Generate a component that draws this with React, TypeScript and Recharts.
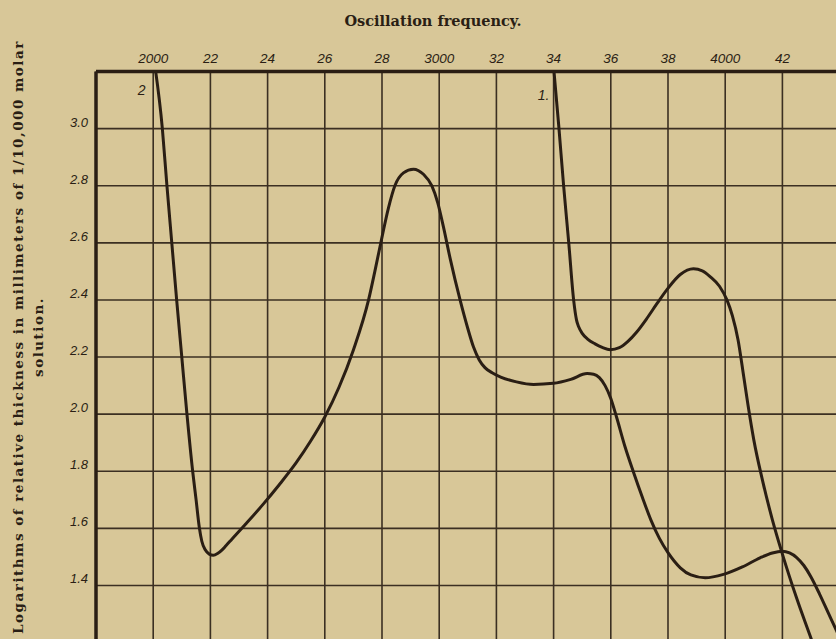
import React from 'react';
import { LineChart, Line, XAxis, YAxis, CartesianGrid, ReferenceDot } from 'recharts';

// Tick values and labels
const xTickValues = [2000, 2200, 2400, 2600, 2800, 3000, 3200, 3400, 3600, 3800, 4000, 4200];
const xTickLabels = ['2000', '22', '24', '26', '28', '3000', '32', '34', '36', '38', '4000', '42'];
const yTickValues = [1.4, 1.6, 1.8, 2.0, 2.2, 2.4, 2.6, 2.8, 3.0];
const yTickLabels = ['1.4', '1.6', '1.8', '2.0', '2.2', '2.4', '2.6', '2.8', '3.0'];

// Curve 2 (oscillation frequency vs. log thickness)
const curve2Freq = [2000, 2032, 2048, 2065, 2082, 2100, 2118, 2138, 2150, 2161, 2170, 2182, 2196, 2210, 2225, 2240, 2255, 2275, 2325, 2384, 2440, 2500, 2550, 2600, 2650, 2700, 2753, 2775, 2800, 2822, 2845, 2875, 2910, 2945, 2974, 2995, 3015, 3039, 3073, 3100, 3120, 3140, 3160, 3185, 3215, 3270, 3330, 3399, 3460, 3517, 3540, 3560, 3580, 3600, 3620, 3650, 3680, 3710, 3740, 3770, 3800, 3843, 3880, 3930, 3994, 4060, 4122, 4165, 4200, 4225, 4250, 4275, 4300, 4330, 4360, 4390, 4430];
const curve2Log = [3.26, 3.0, 2.8, 2.6, 2.4, 2.2, 2.0, 1.8, 1.7, 1.605, 1.555, 1.525, 1.51, 1.506, 1.512, 1.524, 1.54, 1.562, 1.617, 1.684, 1.752, 1.83, 1.905, 1.99, 2.095, 2.225, 2.4, 2.5, 2.62, 2.72, 2.8, 2.845, 2.858, 2.84, 2.8, 2.74, 2.655, 2.542, 2.4, 2.3, 2.235, 2.19, 2.163, 2.145, 2.13, 2.113, 2.104, 2.108, 2.122, 2.142, 2.14, 2.128, 2.1, 2.055, 1.99, 1.885, 1.795, 1.71, 1.63, 1.565, 1.515, 1.462, 1.437, 1.427, 1.439, 1.465, 1.497, 1.514, 1.52, 1.514, 1.498, 1.47, 1.43, 1.37, 1.305, 1.24, 1.15];

// Curve 1
const curve1Freq = [3397, 3418, 3435, 3453, 3470, 3480, 3488, 3500, 3520, 3545, 3570, 3598, 3630, 3660, 3690, 3726, 3760, 3797, 3843, 3889, 3920, 3948, 3980, 4006, 4025, 4045, 4065, 4080, 4100, 4130, 4165, 4200, 4250, 4300, 4330];
const curve1Log = [3.25, 3.01, 2.8, 2.6, 2.4, 2.33, 2.305, 2.283, 2.262, 2.246, 2.234, 2.226, 2.233, 2.255, 2.287, 2.335, 2.385, 2.437, 2.489, 2.509, 2.502, 2.481, 2.448, 2.4, 2.345, 2.26, 2.13, 2.03, 1.91, 1.77, 1.63, 1.51, 1.355, 1.215, 1.13];

const curve1 = curve1Freq.map((x, i) => ({ x, y: curve1Log[i] }));
const curve2 = curve2Freq.map((x, i) => ({ x, y: curve2Log[i] }));

const ink = '#2a1e14';
const gridInk = '#3b2f22';
const paper = '#d8c798';

const XTick = (props: any) => {
  const { x, y, payload } = props;
  const idx = xTickValues.indexOf(payload.value);
  return (
    <text x={x} y={y} dy={-1} textAnchor="middle" fill={ink}
      style={{ fontFamily: '"Liberation Sans", sans-serif', fontStyle: 'italic', fontSize: 13.5 }}>
      {idx >= 0 ? xTickLabels[idx] : ''}
    </text>
  );
};

const YTick = (props: any) => {
  const { x, y, payload } = props;
  const idx = yTickValues.findIndex((v) => Math.abs(v - payload.value) < 1e-6);
  return (
    <text x={x} y={y} dy={-2} textAnchor="end" fill={ink}
      style={{ fontFamily: '"Liberation Sans", sans-serif', fontStyle: 'italic', fontSize: 13 }}>
      {idx >= 0 ? yTickLabels[idx] : ''}
    </text>
  );
};

export default function App() {
  return (
    <div style={{ position: 'fixed', left: 0, top: 0, width: 836, height: 639, overflow: 'hidden', background: paper }}>
      <div style={{ position: 'absolute', left: 433, top: 20, transform: 'translate(-50%, -50%)', whiteSpace: 'nowrap',
        fontFamily: '"DejaVu Serif", serif', fontWeight: 'bold', fontSize: 14.5, color: ink }}>
        Oscillation frequency.
      </div>
      <div style={{ position: 'absolute', left: 28, top: 337, transform: 'translate(-50%, -50%) rotate(-90deg)', whiteSpace: 'nowrap',
        textAlign: 'center', fontFamily: '"DejaVu Serif", serif', fontWeight: 'bold', fontSize: 13.5, letterSpacing: 1.5, lineHeight: '20px', color: ink }}>
        Logarithms of relative thickness in millimeters of 1/10,000 molar
        <br />
        solution.
      </div>
      <div style={{ position: 'absolute', left: 0, top: 0 }}>
        <LineChart width={850} height={660} margin={{ top: 41.5, left: 36, right: 10.4, bottom: 17.4 }}>
          <CartesianGrid stroke={gridInk} strokeWidth={1.6} />
          <XAxis dataKey="x" type="number" orientation="top" domain={[1800, 4400]} allowDataOverflow
            ticks={xTickValues} height={30} tickLine={false} tick={<XTick />} interval={0}
            axisLine={{ stroke: ink, strokeWidth: 3.5 }} />
          <YAxis type="number" domain={[1.2, 3.2]} allowDataOverflow ticks={yTickValues} width={60}
            tickLine={false} tick={<YTick />} interval={0} axisLine={{ stroke: ink, strokeWidth: 3.5 }} />
          <Line data={curve2} dataKey="y" type="monotone" dot={false} stroke={ink} strokeWidth={3} isAnimationActive={false} />
          <Line data={curve1} dataKey="y" type="monotone" dot={false} stroke={ink} strokeWidth={3} isAnimationActive={false} />
          <ReferenceDot x={1960} y={3.135} r={0} fill="none" stroke="none"
            label={{ value: '2', position: 'center', fill: ink, fontSize: 14, fontStyle: 'italic', fontFamily: '"Liberation Sans", sans-serif' }} />
          <ReferenceDot x={3365} y={3.118} r={0} fill="none" stroke="none"
            label={{ value: '1.', position: 'center', fill: ink, fontSize: 14, fontStyle: 'italic', fontFamily: '"Liberation Sans", sans-serif' }} />
        </LineChart>
      </div>
    </div>
  );
}
